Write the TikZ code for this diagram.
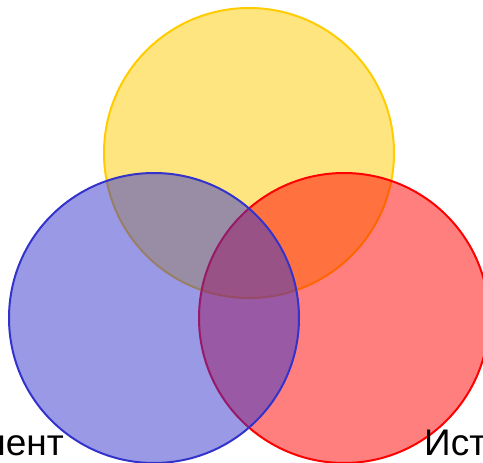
\documentclass[tikz,border=0pt]{standalone}
\usepackage{fontspec}
\setmainfont{Liberation Sans}
\usepackage{xcolor}
\usepackage{tikz}
\definecolor{setyellow}{RGB}{255,204,0}
\definecolor{setblue}{RGB}{51,51,204}
\definecolor{setred}{RGB}{255,0,0}

\begin{document}
\begin{tikzpicture}[x=1pt, y=-1pt,
setc/.style={circle, minimum size=290pt, inner sep=0pt, line width=2pt, fill opacity=0.5},
lbl/.style={inner sep=0pt, font=\fontsize{37}{44}\selectfont}
]
\useasboundingbox (0,0) rectangle (483,463);

\node[setc, draw=setyellow, fill=setyellow] (top) at (249,153) {};
\node[setc, draw=setred, fill=setred] (right) at (344,318) {};
\node[setc, draw=setblue, fill=setblue] (left) at (154,318) {};

\node[lbl, anchor=base east] (leftlbl) at (64,455) {нент};
\node[lbl, anchor=base west] (rightlbl) at (424,455) {Ист};

\end{tikzpicture}
\end{document}
